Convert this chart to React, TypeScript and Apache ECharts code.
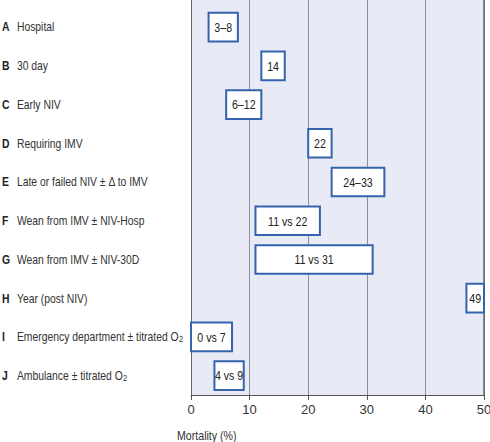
import React, { useEffect, useRef } from "react";
import * as echarts from "echarts";

const letters = ["A", "B", "C", "D", "E", "F", "G", "H", "I", "J"];
const names = [
  "Hospital",
  "30 day",
  "Early NIV",
  "Requiring IMV",
  "Late or failed NIV ± Δ to IMV",
  "Wean from IMV ± NIV-Hosp",
  "Wean from IMV ± NIV-30D",
  "Year (post NIV)",
  "Emergency department ± titrated O2",
  "Ambulance ± titrated O2",
];
const boxLabels = ["3–8", "14", "6–12", "22", "24–33", "11 vs 22", "11 vs 31", "49", "0 vs 7", "4 vs 9"];
const boxLow = [3, 12, 6, 20, 24, 11, 11, 47, 0, 4];
const boxHigh = [8, 16, 12, 24, 33, 22, 31, 50, 7, 9];
const xTicks = [0, 10, 20, 30, 40, 50];
const xTitle = "Mortality (%)";

export default function App() {
  const ref = useRef<HTMLDivElement>(null);
  useEffect(() => {
    if (!ref.current) return;
    const chart = echarts.init(ref.current, undefined, { renderer: "svg" });
    const font = "'Liberation Sans', Arial, sans-serif";
    const narrow = 0.85;
    const labelNarrow = 0.83;
    const data = boxLow.map((lo, i) => [lo, boxHigh[i], i]);
    const labelData = names.map((_, i) => [0, i]);
    const fmtLabel = (i: number) => {
      const n = names[i];
      if (n.endsWith("O2")) {
        return `{b|${letters[i]}}{t|${n.slice(0, -1)}}{s|2}`;
      }
      return `{b|${letters[i]}}{t|${n}}`;
    };
    chart.setOption({
      animation: false,
      grid: {
        left: 191,
        right: 6,
        top: 0,
        bottom: 47,
        show: true,
        backgroundColor: "#e8eaf6",
        borderWidth: 0,
        containLabel: false,
        outerBoundsMode: "none",
      },
      graphic: [
        {
          type: "text",
          x: 177,
          y: 435,
          scaleX: narrow,
          style: {
            text: xTitle,
            fontFamily: font,
            fontSize: 12.5,
            fill: "#333",
            verticalAlign: "middle",
            align: "left",
          },
        },
      ],
      xAxis: {
        type: "value",
        min: xTicks[0],
        max: xTicks[xTicks.length - 1],
        interval: 10,
        axisLine: { show: true, onZero: false, lineStyle: { color: "#555", width: 1 } },
        axisTick: { show: true, length: 5, lineStyle: { color: "#555" } },
        axisLabel: { fontFamily: font, fontSize: 13, color: "#333", margin: 8 },
        splitLine: { show: true, lineStyle: { color: "#8e8e9e", width: 1 } },
      },
      yAxis: [
        {
          type: "value",
          inverse: true,
          min: -0.7,
          max: 9.5,
          axisLine: { show: true, onZero: false, lineStyle: { color: "#666", width: 1 } },
          axisTick: { show: false },
          splitLine: { show: false },
          axisLabel: { show: false },
        },
        {
          type: "value",
          position: "right",
          inverse: true,
          min: -0.7,
          max: 9.5,
          axisLine: { show: true, onZero: false, lineStyle: { color: "#666", width: 1.5 } },
          axisTick: { show: false },
          axisLabel: { show: false },
          splitLine: { show: false },
        },
      ],
      series: [
        {
          type: "custom",
          yAxisIndex: 0,
          clip: false,
          data,
          encode: { x: [0, 1], y: 2 },
          renderItem: (params: any, api: any) => {
            const lo = api.value(0);
            const hi = api.value(1);
            const row = api.value(2);
            const p0 = api.coord([lo, row]);
            const p1 = api.coord([hi, row]);
            const h = api.size([0, 1])[1] * 0.74;
            return {
              type: "rect",
              shape: { x: p0[0], y: p0[1] - h / 2, width: p1[0] - p0[0], height: h },
              style: { fill: "#ffffff", stroke: "#3563ad", lineWidth: 2 },
              textContent: {
                scaleX: narrow,
                style: {
                  text: boxLabels[params.dataIndex],
                  fill: "#222",
                  fontFamily: font,
                  fontSize: 12.5,
                },
              },
              textConfig: { position: "inside" },
            };
          },
        },
        {
          type: "custom",
          yAxisIndex: 0,
          clip: false,
          data: labelData,
          encode: { x: 0, y: 1 },
          renderItem: (params: any, api: any) => {
            const row = api.value(1);
            const p = api.coord([0, row]);
            return {
              type: "text",
              x: p[0] - 189,
              y: p[1],
              scaleX: labelNarrow,
              style: {
                text: fmtLabel(params.dataIndex),
                align: "left",
                verticalAlign: "middle",
                rich: {
                  b: { fontFamily: font, fontSize: 12.5, fontWeight: "bold", fill: "#222", width: 18, lineHeight: 14 },
                  t: { fontFamily: font, fontSize: 12.5, fill: "#333", lineHeight: 14 },
                  s: { fontFamily: font, fontSize: 9, fill: "#333", lineHeight: 9, verticalAlign: "bottom", padding: [5, 0, 0, 0] },
                },
              },
            };
          },
        },
      ],
    });
    return () => chart.dispose();
  }, []);
  return <div ref={ref} style={{ width: 490, height: 442, position: "absolute", left: 0, top: 0 }} />;
}
